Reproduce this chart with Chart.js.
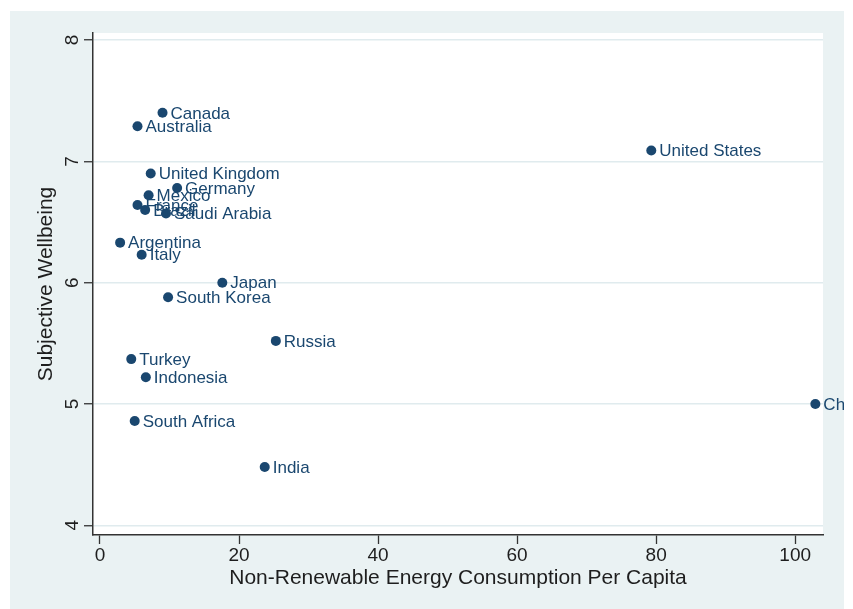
<!DOCTYPE html>
<html>
<head>
<meta charset="utf-8">
<script src="https://cdn.jsdelivr.net/npm/chart.js@4/dist/chart.umd.min.js"></script>
<style>
  html, body { margin: 0; padding: 0; background: #ffffff; }
  canvas { display: block; }
</style>
</head>
<body>
<canvas id="chart" width="853" height="609"></canvas>
<script>
// Countries and their values
const countries = [
  'Canada', 'Australia', 'United States', 'United Kingdom', 'Germany',
  'Mexico', 'France', 'Brazil', 'Saudi Arabia', 'Argentina', 'Italy',
  'Japan', 'South Korea', 'Russia', 'Turkey', 'Indonesia', 'China',
  'South Africa', 'India'
];
const energyPerCapita = [
  9.0, 5.4, 79.3, 7.3, 11.1,
  7.0, 5.4, 6.5, 9.5, 2.9, 6.0,
  17.6, 9.8, 25.3, 4.5, 6.6, 102.9,
  5.0, 23.7
];
const wellbeing = [
  7.40, 7.29, 7.09, 6.90, 6.78,
  6.72, 6.64, 6.60, 6.57, 6.33, 6.23,
  6.00, 5.88, 5.52, 5.37, 5.22, 5.00,
  4.86, 4.48
];
const xTicks = [0, 20, 40, 60, 80, 100];
const yTicks = [4, 5, 6, 7, 8];

const navy = '#1a476f';
const panel = '#eaf2f3';
const ink = '#1e1e1e';
const FONT = "'Liberation Sans', Arial, sans-serif";

// Outer panel and white plot region
const backdrop = {
  id: 'backdrop',
  beforeDraw(chart) {
    const { ctx, chartArea: a } = chart;
    ctx.save();
    ctx.fillStyle = panel;
    ctx.fillRect(10, 11, 834, 598);
    ctx.fillStyle = '#ffffff';
    ctx.fillRect(a.left, a.top, a.right - a.left, a.bottom - a.top);
    ctx.restore();
  }
};

// Country names to the right of each marker
const markerLabels = {
  id: 'markerLabels',
  afterDatasetsDraw(chart) {
    const { ctx } = chart;
    const meta = chart.getDatasetMeta(0);
    ctx.save();
    ctx.beginPath();
    ctx.rect(0, 0, 844, 609);
    ctx.clip();
    ctx.font = '17px ' + FONT;
    ctx.fillStyle = navy;
    ctx.textAlign = 'left';
    ctx.textBaseline = 'middle';
    meta.data.forEach((pt, i) => {
      ctx.fillText(countries[i], pt.x + 8, pt.y + 1);
    });
    ctx.restore();
  }
};

new Chart(document.getElementById('chart'), {
  type: 'scatter',
  data: {
    datasets: [{
      data: energyPerCapita.map((x, i) => ({ x, y: wellbeing[i] })),
      backgroundColor: navy,
      borderColor: navy,
      pointRadius: 5,
      pointHoverRadius: 5,
      borderWidth: 0,
      clip: false
    }]
  },
  options: {
    responsive: false,
    animation: false,
    devicePixelRatio: 1,
    layout: { padding: { left: 0, top: 33, right: 30, bottom: 0 } },
    plugins: { legend: { display: false }, tooltip: { enabled: false } },
    scales: {
      x: {
        type: 'linear',
        min: -1.0,
        max: 104.0,
        afterBuildTicks(scale) { scale.ticks = xTicks.map(v => ({ value: v })); },
        afterFit(scale) { scale.height = 74; },
        grid: { drawOnChartArea: false, drawTicks: true, tickLength: 9, tickColor: '#333333', tickWidth: 1.3 },
        border: { display: true, color: '#333333', width: 1.5 },
        ticks: { color: ink, font: { family: FONT, size: 19 }, padding: 0, maxRotation: 0 },
        title: {
          display: true,
          text: 'Non-Renewable Energy Consumption Per Capita',
          color: ink,
          font: { family: FONT, size: 21 },
          padding: { top: 0, bottom: 18 }
        }
      },
      y: {
        type: 'linear',
        min: 3.92,
        max: 8.058,
        afterBuildTicks(scale) { scale.ticks = yTicks.map(v => ({ value: v })); },
        afterFit(scale) { scale.width = 93; },
        grid: { color: '#e0ebee', lineWidth: 1.5, drawTicks: true, tickLength: 9, tickColor: '#333333', tickWidth: 1.3 },
        border: { display: true, color: '#333333', width: 1.5 },
        ticks: {
          color: ink,
          font: { family: FONT, size: 19 },
          padding: 6,
          minRotation: 90,
          maxRotation: 90,
          crossAlign: 'center'
        },
        title: {
          display: true,
          text: 'Subjective Wellbeing',
          color: ink,
          font: { family: FONT, size: 21 },
          padding: { top: 34, bottom: 0 }
        }
      }
    }
  },
  plugins: [backdrop, markerLabels]
});
</script>
</body>
</html>
